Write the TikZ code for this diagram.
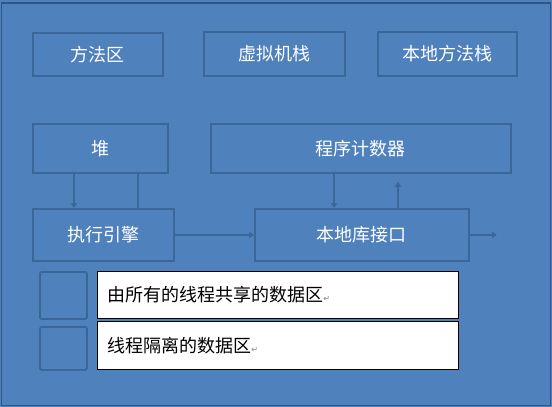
\documentclass[tikz,border=0pt]{standalone}
\usepackage{fontspec}
\newfontfamily\cjk{Noto Sans CJK SC}
\newfontfamily\markfont{DejaVu Sans}
\usetikzlibrary{positioning, arrows.meta}

\definecolor{bgblue}{HTML}{4F81BD}
\definecolor{edgeblue}{HTML}{3A6698}
\definecolor{frameblue}{HTML}{2F5585}

\tikzset{
  area/.style={draw=edgeblue, line width=1.8pt, text=white, anchor=north west,
    inner sep=0pt, font=\cjk\fontsize{18}{18}\selectfont},
  keybox/.style={draw=edgeblue, line width=1.8pt, rounded corners=1.5pt, anchor=north west},
  notebox/.style={draw=black, line width=0.9pt, fill=white, anchor=north west,
    inner xsep=10pt, inner ysep=0pt, align=left, font=\cjk\fontsize{18}{18}\selectfont},
  link/.style={draw=edgeblue, line width=2.6pt},
  flow/.style={link, -{Triangle[length=5pt, width=6pt]}},
}

\newcommand{\retmark}{{\color{gray}\markfont\fontsize{8}{8}\selectfont ↵}}

\begin{document}
\begin{tikzpicture}[x=1pt, y=-1pt]
  \useasboundingbox (0,0) rectangle (552,407);
  \fill[bgblue] (0,0) rectangle (552,407);
  \draw[frameblue, line width=1.5pt] (1.5,3) rectangle (550.5,405.5);

  % top row
  \node[area, minimum width=130pt, minimum height=43pt] (method) at (32,32) {方法区};
  \node[area, minimum width=141pt, minimum height=44pt] (vmstack) at (203,31) {虚拟机栈};
  \node[area, minimum width=139pt, minimum height=44pt] (nstack) at (377,31) {本地方法栈};

  % middle rows
  \node[area, minimum width=135pt, minimum height=49pt] (heap) at (32,123) {堆};
  \node[area, minimum width=300pt, minimum height=49pt] (pc) at (210,123) {程序计数器};
  \node[area, minimum width=141pt, minimum height=52pt] (exec) at (32,208) {执行引擎};
  \node[area, minimum width=214pt, minimum height=52pt] (native) at (254,208) {本地库接口};
  \coordinate[right=27pt of native.east] (nout);

  \draw[flow] ([xshift=42pt]heap.south west) -- ([xshift=42pt]exec.north west);
  \draw[link] ([xshift=106pt]exec.north west) -- ([xshift=106pt]heap.south west);
  \draw[flow] ([xshift=124pt]pc.south west) -- ([xshift=80pt]native.north west);
  \draw[flow] ([xshift=144pt]native.north west) -- ([xshift=188pt, yshift=-8pt]pc.south west);
  \draw[flow] (exec.east) -- (native.west);
  \draw[flow] (native.east) -- (nout);

  % legend
  \node[keybox, minimum width=47pt, minimum height=47pt] (keyshared) at (39,271) {};
  \node[keybox, minimum width=47pt, minimum height=43pt] (keyprivate) at (39,326) {};
  \node[notebox, text width=341pt, minimum height=47pt] (noteshared) at (97,271) {由所有的线程共享的数据区\retmark};
  \node[notebox, text width=341pt, minimum height=48pt] (noteprivate) at (97,321) {线程隔离的数据区\retmark};
\end{tikzpicture}
\end{document}
